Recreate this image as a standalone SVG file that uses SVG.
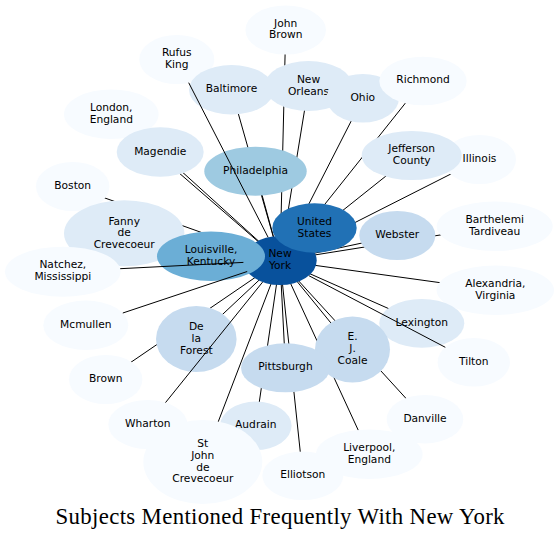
<svg xmlns="http://www.w3.org/2000/svg" width="559" height="540" viewBox="0 0 559 540">
<style>
.e{stroke:#000;stroke-width:1;fill:none}
.n text{font-family:"DejaVu Sans",sans-serif;font-size:10.67px;text-anchor:middle;fill:#000}
.c1{fill:#f7fbff}.c2{fill:#deebf7}.c3{fill:#c6dbef}.c4{fill:#9ecae1}.c5{fill:#6baed6}.c7{fill:#2171b5}.c8{fill:#08519c}
.title{font-family:"Liberation Serif",serif;font-size:22.8px;text-anchor:middle;fill:#000}
</style>
<rect width="559" height="540" fill="#fff"/>
<g id="connectors">
<line class="e" x1="285.7" y1="30" x2="280" y2="260.5"/>
<line class="e" x1="231.5" y1="89.7" x2="280" y2="260.5"/>
<line class="e" x1="308.5" y1="86" x2="280" y2="260.5"/>
<line class="e" x1="362.8" y1="98.3" x2="280" y2="260.5"/>
<line class="e" x1="423" y1="81" x2="280" y2="260.5"/>
<line class="e" x1="111.3" y1="114.2" x2="280" y2="260.5"/>
<line class="e" x1="160.2" y1="152" x2="280" y2="260.5"/>
<line class="e" x1="255.5" y1="171.2" x2="280" y2="260.5"/>
<line class="e" x1="411.7" y1="155.5" x2="280" y2="260.5"/>
<line class="e" x1="479.5" y1="159.5" x2="280" y2="260.5"/>
<line class="e" x1="72.7" y1="186.5" x2="280" y2="260.5"/>
<line class="e" x1="124.2" y1="233.3" x2="280" y2="260.5"/>
<line class="e" x1="397.3" y1="235.5" x2="280" y2="260.5"/>
<line class="e" x1="494.7" y1="226.3" x2="280" y2="260.5"/>
<line class="e" x1="495.3" y1="290.3" x2="280" y2="260.5"/>
<line class="e" x1="421.8" y1="323.3" x2="280" y2="260.5"/>
<line class="e" x1="196.3" y1="339" x2="280" y2="260.5"/>
<line class="e" x1="352.5" y1="349.5" x2="280" y2="260.5"/>
<line class="e" x1="285.5" y1="367.8" x2="280" y2="260.5"/>
<line class="e" x1="105.7" y1="379.5" x2="280" y2="260.5"/>
<line class="e" x1="425" y1="419.2" x2="280" y2="260.5"/>
<line class="e" x1="255.8" y1="425.8" x2="280" y2="260.5"/>
<line class="e" x1="369.3" y1="454.2" x2="280" y2="260.5"/>
<line class="e" x1="202.8" y1="462" x2="280" y2="260.5"/>
<line class="e" x1="302.8" y1="475.8" x2="280" y2="260.5"/>
</g>
<g id="node-john-brown" class="n"><ellipse class="c1" cx="285.7" cy="30" rx="40.3" ry="24.5"/><text><tspan x="285.7" y="26.5">John</tspan><tspan x="285.7" y="38.3">Brown</tspan></text></g>
<g id="node-rufus-king" class="n"><ellipse class="c1" cx="176.8" cy="59.5" rx="37.5" ry="24.5"/><text><tspan x="176.8" y="56.2">Rufus</tspan><tspan x="176.8" y="68">King</tspan></text></g>
<g id="node-baltimore" class="n"><ellipse class="c2" cx="231.5" cy="89.7" rx="42.5" ry="24.7"/><text x="231.5" y="92.1">Baltimore</text></g>
<g id="node-new-orleans" class="n"><ellipse class="c2" cx="308.5" cy="86" rx="44" ry="25"/><text><tspan x="308.5" y="82.7">New</tspan><tspan x="308.5" y="94.5">Orleans</tspan></text></g>
<g id="node-ohio" class="n"><ellipse class="c2" cx="362.8" cy="98.3" rx="36.2" ry="24.3"/><text x="362.8" y="100.9">Ohio</text></g>
<g id="node-richmond" class="n"><ellipse class="c1" cx="423" cy="81" rx="43.7" ry="24.3"/><text x="423" y="83.4">Richmond</text></g>
<g id="node-london" class="n"><ellipse class="c1" cx="111.3" cy="114.2" rx="47.3" ry="24.8"/><text><tspan x="111.3" y="110.9">London,</tspan><tspan x="111.3" y="122.7">England</tspan></text></g>
<g id="node-magendie" class="n"><ellipse class="c2" cx="160.2" cy="152" rx="43.5" ry="24.7"/><text x="160.2" y="154.6">Magendie</text></g>
<g id="node-philadelphia" class="n"><ellipse class="c4" cx="255.5" cy="171.2" rx="51.2" ry="24.5"/><text x="255.5" y="173.8">Philadelphia</text></g>
<g id="node-illinois" class="n"><ellipse class="c1" cx="479.5" cy="159.5" rx="36.5" ry="24.5"/><text x="479.5" y="162.1">Illinois</text></g>
<g id="node-jefferson-county" class="n"><ellipse class="c2" cx="411.7" cy="155.5" rx="50" ry="24.5"/><text><tspan x="411.7" y="152.2">Jefferson</tspan><tspan x="411.7" y="164">County</tspan></text></g>
<g id="node-boston" class="n"><ellipse class="c1" cx="72.7" cy="186.5" rx="36.7" ry="24.5"/><text x="72.7" y="189.1">Boston</text></g>
<g id="node-fanny" class="n"><ellipse class="c2" cx="124.2" cy="233.3" rx="60.2" ry="33"/><text><tspan x="124.2" y="224.6">Fanny</tspan><tspan x="124.2" y="236.4">de</tspan><tspan x="124.2" y="248.2">Crevecoeur</tspan></text></g>
<g id="node-natchez" class="n"><ellipse class="c1" cx="62.8" cy="271.7" rx="57.8" ry="25"/><text><tspan x="62.8" y="268.4">Natchez,</tspan><tspan x="62.8" y="280.2">Mississippi</tspan></text></g>
<g id="node-new-york" class="n"><ellipse class="c8" cx="280" cy="260.5" rx="36.7" ry="24.5"/><text><tspan x="280" y="257.2">New</tspan><tspan x="280" y="269">York</tspan></text></g>
<g id="node-louisville" class="n"><ellipse class="c5" cx="211" cy="256.3" rx="54" ry="24.7"/><text><tspan x="211" y="253">Louisville,</tspan><tspan x="211" y="264.8">Kentucky</tspan></text></g>
<g id="node-united-states" class="n"><ellipse class="c7" cx="314.5" cy="228" rx="42.2" ry="24.7"/><text><tspan x="314.5" y="224.7">United</tspan><tspan x="314.5" y="236.5">States</tspan></text></g>
<g id="node-webster" class="n"><ellipse class="c3" cx="397.3" cy="235.5" rx="38" ry="24.5"/><text x="397.3" y="238.1">Webster</text></g>
<g id="node-barthelemi" class="n"><ellipse class="c1" cx="494.7" cy="226.3" rx="58" ry="24.7"/><text><tspan x="494.7" y="223">Barthelemi</tspan><tspan x="494.7" y="234.8">Tardiveau</tspan></text></g>
<g id="node-alexandria" class="n"><ellipse class="c1" cx="495.3" cy="290.3" rx="58.7" ry="24.7"/><text><tspan x="495.3" y="287">Alexandria,</tspan><tspan x="495.3" y="298.8">Virginia</tspan></text></g>
<g id="node-mcmullen" class="n"><ellipse class="c1" cx="85.8" cy="325.3" rx="42.5" ry="24.7"/><text x="85.8" y="327.9">Mcmullen</text></g>
<g id="node-lexington" class="n"><ellipse class="c2" cx="421.8" cy="323.3" rx="42.5" ry="24.4"/><text x="421.8" y="325.9">Lexington</text></g>
<g id="node-de-la-forest" class="n"><ellipse class="c3" cx="196.3" cy="339" rx="40.3" ry="33"/><text><tspan x="196.3" y="330.3">De</tspan><tspan x="196.3" y="342.1">la</tspan><tspan x="196.3" y="353.9">Forest</tspan></text></g>
<g id="node-ej-coale" class="n"><ellipse class="c3" cx="352.5" cy="349.5" rx="37.5" ry="33"/><text><tspan x="352.5" y="340.3">E.</tspan><tspan x="352.5" y="352.1">J.</tspan><tspan x="352.5" y="363.9">Coale</tspan></text></g>
<g id="node-tilton" class="n"><ellipse class="c1" cx="473.8" cy="362.3" rx="36.2" ry="24.3"/><text x="473.8" y="364.9">Tilton</text></g>
<g id="node-pittsburgh" class="n"><ellipse class="c3" cx="285.5" cy="367.8" rx="44.5" ry="24.5"/><text x="285.5" y="370.4">Pittsburgh</text></g>
<g id="node-brown" class="n"><ellipse class="c1" cx="105.7" cy="379.5" rx="36.7" ry="24.5"/><text x="105.7" y="382.1">Brown</text></g>
<g id="node-danville" class="n"><ellipse class="c1" cx="425" cy="419.2" rx="38.3" ry="24.2"/><text x="425" y="421.8">Danville</text></g>
<g id="node-wharton" class="n"><ellipse class="c1" cx="147.8" cy="424.5" rx="39.5" ry="24.5"/><text x="147.8" y="427.1">Wharton</text></g>
<g id="node-audrain" class="n"><ellipse class="c2" cx="255.8" cy="425.8" rx="35.8" ry="24.2"/><text x="255.8" y="428.4">Audrain</text></g>
<g id="node-liverpool" class="n"><ellipse class="c1" cx="369.3" cy="454.2" rx="53.3" ry="24.8"/><text><tspan x="369.3" y="450.9">Liverpool,</tspan><tspan x="369.3" y="462.7">England</tspan></text></g>
<g id="node-elliotson" class="n"><ellipse class="c1" cx="302.8" cy="475.8" rx="40.5" ry="24.2"/><text x="302.8" y="478.4">Elliotson</text></g>
<g id="node-st-john" class="n"><ellipse class="c1" cx="202.8" cy="462" rx="59.5" ry="42"/><text><tspan x="202.8" y="446.9">St</tspan><tspan x="202.8" y="458.7">John</tspan><tspan x="202.8" y="470.5">de</tspan><tspan x="202.8" y="482.3">Crevecoeur</tspan></text></g>
<g id="connectors-over">
<line class="e" x1="188.7" y1="82.7" x2="268.1" y2="237.3"/>
<line class="e" x1="120.2" y1="268.7" x2="243.4" y2="262.4"/>
<line class="e" x1="122.8" y1="313" x2="247.2" y2="271.5"/>
<line class="e" x1="165.5" y1="402.6" x2="262.6" y2="282.1"/>
<line class="e" x1="445.3" y1="347.3" x2="308.9" y2="275.7"/>
</g>
<text class="title" x="280" y="524" textLength="449" lengthAdjust="spacing">Subjects Mentioned Frequently With New York</text>
</svg>
